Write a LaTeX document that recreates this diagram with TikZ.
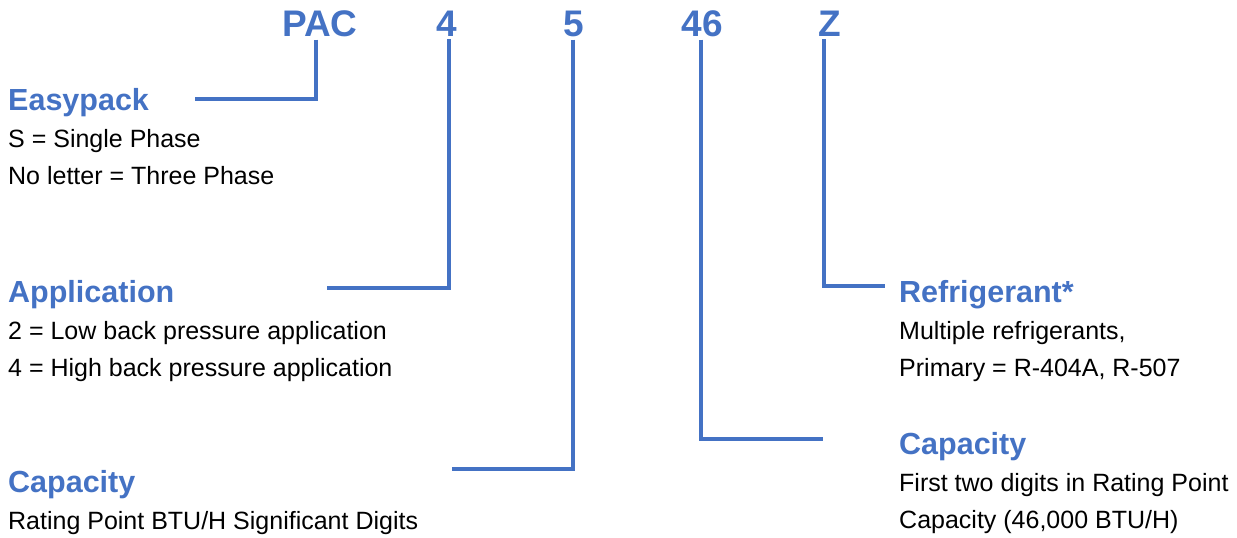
\documentclass[tikz,border=0pt]{standalone}
\usepackage{fontspec}
\setmainfont{Liberation Sans}
\usepackage{xcolor}
\definecolor{codeBlue}{HTML}{4472C4}

\begin{document}
\begin{tikzpicture}[x=1pt, y=-1pt,
    code/.style ={font=\fontsize{37}{40}\selectfont\bfseries, text=codeBlue,
      anchor=base, inner sep=3pt},
    head/.style ={font=\fontsize{30.5}{34}\selectfont\bfseries, text=codeBlue,
      anchor=base west, inner sep=0pt},
    body/.style ={font=\fontsize{25}{30}\selectfont, anchor=base west,
      inner sep=0pt},
    link/.style ={draw=codeBlue, line width=3.2pt}]
    \useasboundingbox (0,0) rectangle (1237,538);
    % model number - top row
    \node [code] (pac) at (320,36) {PAC};
    \node [code] (app) at (447,36) {4};
    \node [code] (sig) at (574,36) {5};
    \node [code] (cap) at (702,36) {46};
    \node [code] (ref) at (830,36) {Z};
    % left column - easypack
    \node [head] (easyHead) at (8,110) {Easypack};
    \node [body] (easyA) at ([yshift=-37pt]easyHead.base west) {S = Single Phase};
    \node [body] (easyB) at ([yshift=-74pt]easyHead.base west) {No letter = Three Phase};
    % left column - application
    \node [head] (appHead) at (8,302) {Application};
    \node [body] (appA) at ([yshift=-37pt]appHead.base west) {2 = Low back pressure application};
    \node [body] (appB) at ([yshift=-74pt]appHead.base west) {4 = High back pressure application};
    % left column - capacity
    \node [head] (sigHead) at (8,492) {Capacity};
    \node [body] (sigA) at ([yshift=-37pt]sigHead.base west) {Rating Point BTU/H Significant Digits};
    % right column - refrigerant
    \node [head] (refHead) at (899,302) {Refrigerant*};
    \node [body] (refA) at ([yshift=-37pt]refHead.base west) {Multiple refrigerants,};
    \node [body] (refB) at ([yshift=-74pt]refHead.base west) {Primary = R-404A, R-507};
    % right column - capacity
    \node [head] (capHead) at (899,454) {Capacity};
    \node [body] (capA) at ([yshift=-37pt]capHead.base west) {First two digits in Rating Point};
    \node [body] (capB) at ([yshift=-74pt]capHead.base west) {Capacity (46,000 BTU/H)};
    % free ends of the leader lines
    \coordinate (easyEnd) at (195,99);
    \coordinate (appEnd) at (327,288);
    \coordinate (sigEnd) at (452,469);
    \coordinate (capEnd) at (823,439);
    \coordinate (refEnd) at (885,286);
    % connecting code letters with their labels
    \begin{scope}[every path/.style=link]
      \path ([xshift=-4pt]pac.south) |- (easyEnd);
      \path ([xshift=2pt]app.south) |- (appEnd);
      \path ([xshift=-1pt]sig.south) |- (sigEnd);
      \path ([xshift=-1pt]cap.south) |- (capEnd);
      \path ([xshift=-6pt]ref.south) |- (refEnd);
    \end{scope}
\end{tikzpicture}
\end{document}
